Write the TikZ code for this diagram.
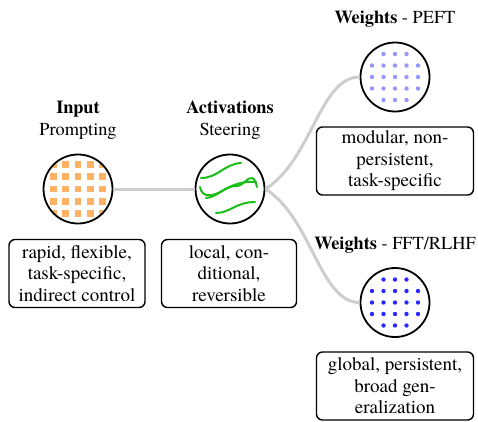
\documentclass[tikz,border=0pt]{standalone}
\usepackage{fontspec}
\setmainfont{TeX Gyre Termes}
\definecolor{conn}{RGB}{205,205,205}
\definecolor{sq}{RGB}{255,178,102}
\definecolor{wave}{RGB}{25,190,25}
\definecolor{lightdot}{RGB}{150,150,255}
\definecolor{darkdot}{RGB}{40,40,255}
\tikzset{
 blob/.style={circle, draw=black, line width=1.8pt, minimum size=69pt, inner sep=0pt},
 infobox/.style={draw=black, rounded corners=6pt, line width=1.4pt, minimum height=68pt, inner sep=0pt, align=center, font=\fontsize{19}{21.5}\selectfont},
 head/.style={anchor=base, font=\fontsize{18.3}{22}\selectfont, inner sep=0pt},
 link/.style={draw=conn, line width=3pt},
 wavy/.style={draw=wave, line width=2pt, line cap=round},
}
\begin{document}
\begin{tikzpicture}[x=1pt,y=-1pt]
\useasboundingbox (0,0) rectangle (478,421);
% circles
\coordinate (cin) at (78,189);
\coordinate (cact) at (230,189);
\coordinate (cpeft) at (395,77);
\coordinate (cfft) at (395,302.5);
% input squares
\begin{scope}
\clip (cin) circle (33.5);
\foreach \i in {-2,...,2} \foreach \j in {-2,...,2}
  \fill[sq, shift={(cin)}] (\i*12.3-3.4,\j*12.3-3.4) rectangle +(6.8,6.8);
\end{scope}
% PEFT dots
\foreach \i in {-2,...,2} \foreach \j in {-1,0,1}
  \fill[lightdot, shift={(cpeft)}] (\i*11.5,\j*11.5) circle (2.2);
\foreach \i in {-1,0,1} \foreach \j in {-2,2}
  \fill[lightdot, shift={(cpeft)}] (\i*11.5,\j*11.5) circle (2.2);
% FFT dots
\foreach \i in {-2,...,2} \foreach \j in {-1,0,1}
  \fill[darkdot, shift={(cfft)}] (\i*11.5,\j*11.5) circle (2.2);
\foreach \i in {-1,0,1} \foreach \j in {-2,2}
  \fill[darkdot, shift={(cfft)}] (\i*11.5,\j*11.5) circle (2.2);
% activation waves
\begin{scope}[shift={(cact)}]
\draw[wavy] (-29,-11) .. controls (-12,-11) and (-6,-25) .. (11,-26);
\draw[wavy] (-14,24) .. controls (0,24) and (6,13) .. (25,13);
\draw[wavy] (-30,-2) .. controls (-28,9) and (-18,8) .. (-6,1) .. controls (4,-5) and (14,-8) .. (26,-7);
\draw[wavy] (-24,9) .. controls (-12,8) and (-6,-3) .. (6,-3) .. controls (14,-3) and (17,-12) .. (22,-11) .. controls (25,-10) and (26,-6) .. (27,-2);
\end{scope}
% circle nodes
\node[blob] (inp) at (cin) {};
\node[blob] (act) at (cact) {};
\node[blob] (peft) at (cpeft) {};
\node[blob] (fft) at (cfft) {};
% connectors
\draw[link] (inp.east) -- (act.west);
\draw[link] (act.east) .. controls +(-32:55) and +(-40,0) .. (peft.west);
\draw[link] (act.east) .. controls +(32:55) and +(-40,0) .. (fft.west);
% headings
\node[head] (h1) at (78,113) {\textbf{Input}};
\node[head] (h1b) at (78,135) {Prompting};
\node[head] (h2) at (230,113) {\textbf{Activations}};
\node[head] (h2b) at (230,135) {Steering};
\node[head] (h3) at (395,23) {\textbf{Weights} - PEFT};
\node[head] (h4) at (395,249) {\textbf{Weights} - FFT/RLHF};
% boxes
\node[infobox, minimum width=136pt] (bin) at (77,273.5) {rapid, flexible,\\task-specific,\\indirect control};
\node[infobox, minimum width=135pt] (bact) at (229,273.5) {local, con-\\ditional,\\reversible};
\node[infobox, minimum width=157pt] (bpeft) at (395,161) {modular, non-\\persistent,\\task-specific};
\node[infobox, minimum width=157pt] (bfft) at (395,386) {global, persistent,\\broad gen-\\eralization};
\end{tikzpicture}
\end{document}
